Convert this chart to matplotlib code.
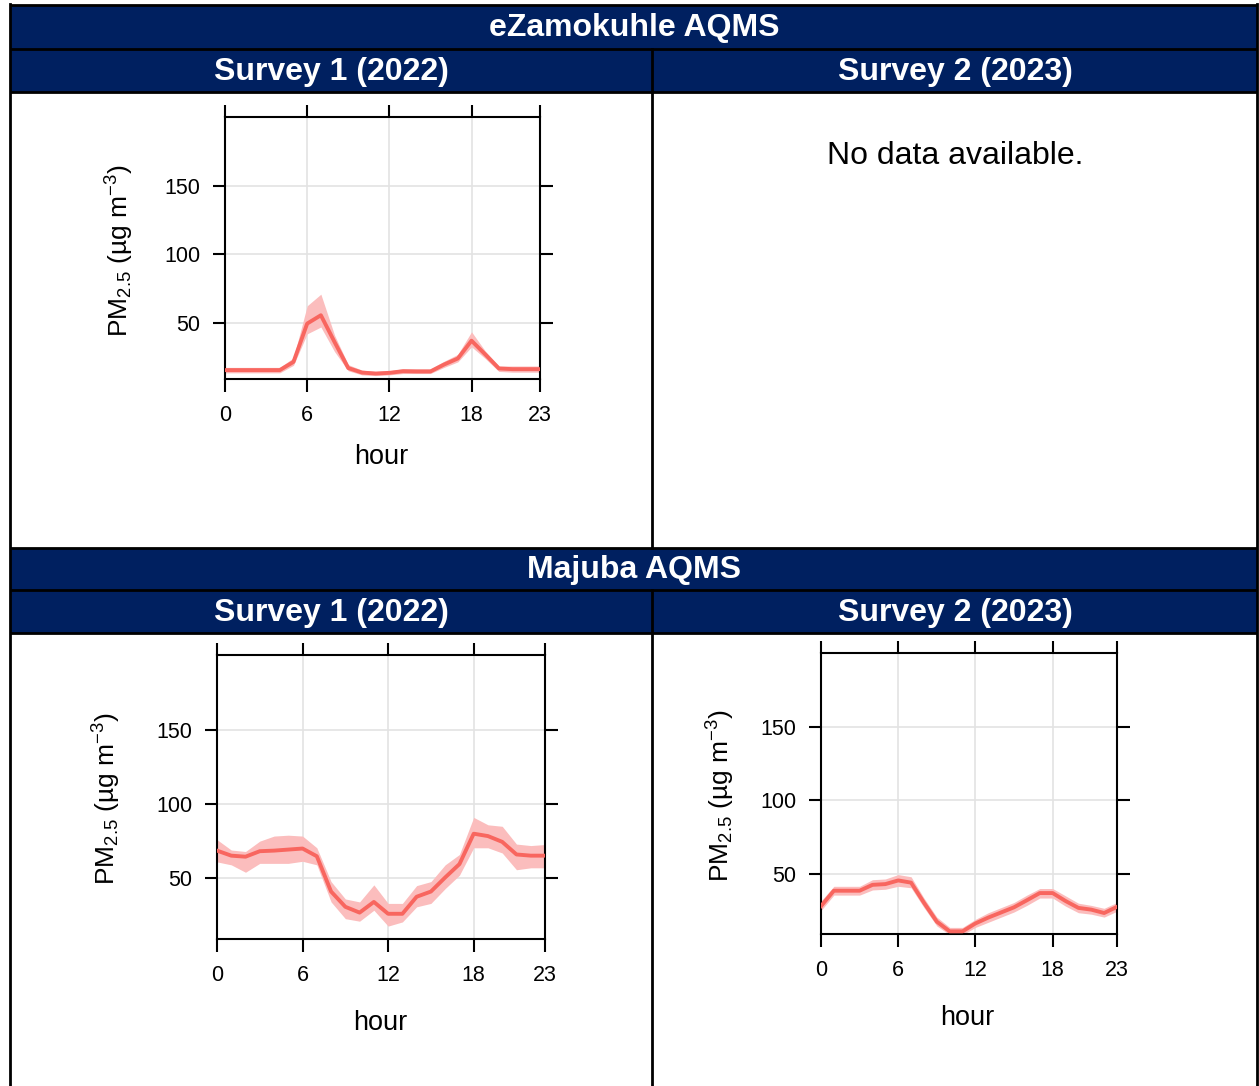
import numpy as np
import matplotlib
matplotlib.use("Agg")
import matplotlib.pyplot as plt
from matplotlib.patches import Rectangle

plt.rcParams['font.family'] = ['Liberation Sans', 'DejaVu Sans']
plt.rcParams['mathtext.default'] = 'regular'

W, H = 1259, 1086
NAVY = '#002060'
LINE = '#F8665F'
BAND = '#FBBDBD'

hours = np.arange(24)

# eZamokuhle AQMS, survey 1 (2022)
ez1_mean = [15.5, 15.5, 15.5, 15.5, 15.5, 21.5, 49.5, 55.6, 36, 17, 13.7, 13,
            13.5, 14.7, 14.5, 14.5, 19.6, 24, 37, 27, 16.7, 16.2, 16.2, 16.2]
ez1_low = [13.5, 13.5, 13.5, 13.5, 13.5, 19, 42, 47, 29, 15, 12, 11.5,
           12, 13, 13, 13, 17.5, 21.5, 32.5, 24, 14.5, 14, 14, 14]
ez1_high = [17.5, 17.5, 17.5, 17.5, 17.5, 24.5, 62.5, 71, 41, 19.5, 15.5, 14.5,
            15, 16.5, 16.5, 16.5, 22, 27, 43.5, 29.5, 18.5, 18.5, 18.5, 18.5]

# Majuba AQMS, survey 1 (2022)
mj1_mean = [68.6, 65.2, 64.5, 68.2, 68.6, 69.3, 70, 64.8, 41, 30.7, 26.8, 34,
            26, 26, 37.5, 41, 50.5, 59.5, 80, 78.4, 74.5, 66, 65.2, 65.2]
mj1_low = [61, 59, 54, 60, 60, 60, 61.4, 59, 34, 22.7, 21, 28.4,
           17.7, 20.5, 30.7, 33, 43, 52, 70.5, 70.5, 67, 55.7, 57, 57]
mj1_high = [76, 69, 68, 75, 78.4, 79, 78.4, 70.5, 47.7, 36, 34, 45.5,
            33, 33, 45, 47.7, 59, 66, 91, 86, 85, 73, 72, 72.7]

# Majuba AQMS, survey 2 (2023)
mj2_mean = [28, 38.5, 38.5, 38.5, 42.5, 43, 45.5, 44, 30.3, 17.4, 10.8, 10.8,
            16.2, 20.2, 23.7, 27.2, 32, 36.9, 36.9, 31.5, 26.8, 25.6, 23.3, 27.5]
mj2_low = [25, 35.5, 35.5, 35.5, 39, 39.5, 41.5, 40.5, 27, 14.5, 8.5, 8.5,
           13.5, 17, 20.5, 24, 28.5, 33.5, 33.5, 28, 23.5, 22.5, 20.5, 24.5]
mj2_high = [31.5, 41.5, 41.5, 41.5, 46, 46.5, 49.5, 48, 33.5, 20.5, 13.5, 13.5,
            19, 23.5, 27, 30.5, 35.5, 40, 40, 35, 30, 28.5, 26.5, 30.5]

x_ticks = [0, 6, 12, 18, 23]
y_ticks = [50, 100, 150]

fig = plt.figure(figsize=(W / 100, H / 100), dpi=100)

# background axes in pixel coordinates for the table
bg = fig.add_axes([0, 0, 1, 1])
bg.set_xlim(0, W)
bg.set_ylim(H, 0)
bg.axis('off')

for y0, y1 in [(5, 92), (548, 633)]:
    bg.add_patch(Rectangle((10, y0), 1247, y1 - y0, facecolor=NAVY, edgecolor='none'))

lw = 2.0
for y in [5, 49, 92, 548, 590, 633]:
    bg.plot([10, 1257], [y, y], color='black', lw=lw, solid_capstyle='butt')
bg.plot([10, 10], [4, H], color='black', lw=lw)
bg.plot([1257, 1257], [4, H], color='black', lw=lw)
bg.plot([652, 652], [49, 548], color='black', lw=lw)
bg.plot([652, 652], [590, H], color='black', lw=lw)

hdr = dict(color='white', fontweight='bold', fontsize=23, ha='center', va='center')
bg.text(634, 28, 'eZamokuhle AQMS', **hdr)
bg.text(331, 72, 'Survey 1 (2022)', **hdr)
bg.text(955, 72, 'Survey 2 (2023)', **hdr)
bg.text(634, 570, 'Majuba AQMS', **hdr)
bg.text(331, 613, 'Survey 1 (2022)', **hdr)
bg.text(955, 613, 'Survey 2 (2023)', **hdr)
bg.text(955, 156, 'No data available.', fontsize=23, ha='center', va='center')

ylab = 'PM$_{2.5}$ (µg m$^{-3}$)'


def panel(box, mean, low, high, ylab_xy, hour_xy):
    left, right, top, bottom = box
    ax = fig.add_axes([left / W, 1 - bottom / H, (right - left) / W, (bottom - top) / H])
    ax.fill_between(hours, low, high, color=BAND, lw=0, zorder=2)
    ax.plot(hours, mean, color=LINE, lw=2.8, zorder=3)
    ax.set_xlim(0, 23)
    ax.set_ylim(9, 200.5)
    ax.set_xticks(x_ticks)
    ax.set_yticks(y_ticks)
    ax.grid(True, color='#E3E3E3', lw=1.2, zorder=1)
    for s in ax.spines.values():
        s.set_linewidth(1.5)
    ax.tick_params(direction='out', length=9, width=1.5, labelsize=15.5,
                   top=True, right=True, labeltop=False, labelright=False)
    ax.tick_params(axis='x', pad=10)
    ax.tick_params(axis='y', pad=9)
    bg.text(ylab_xy[0], ylab_xy[1], ylab, rotation=90, fontsize=19,
            ha='center', va='center')
    bg.text(hour_xy[0], hour_xy[1], 'hour', fontsize=19.5, ha='center', va='center')
    return ax


panel((225, 540, 117, 379), ez1_mean, ez1_low, ez1_high, (120, 251), (381, 457))
panel((217, 545, 655, 939), mj1_mean, mj1_low, mj1_high, (107, 799), (380, 1023))
panel((821, 1117, 653, 934), mj2_mean, mj2_low, mj2_high, (721, 796), (967, 1018))

fig.savefig('out.png', dpi=100)
